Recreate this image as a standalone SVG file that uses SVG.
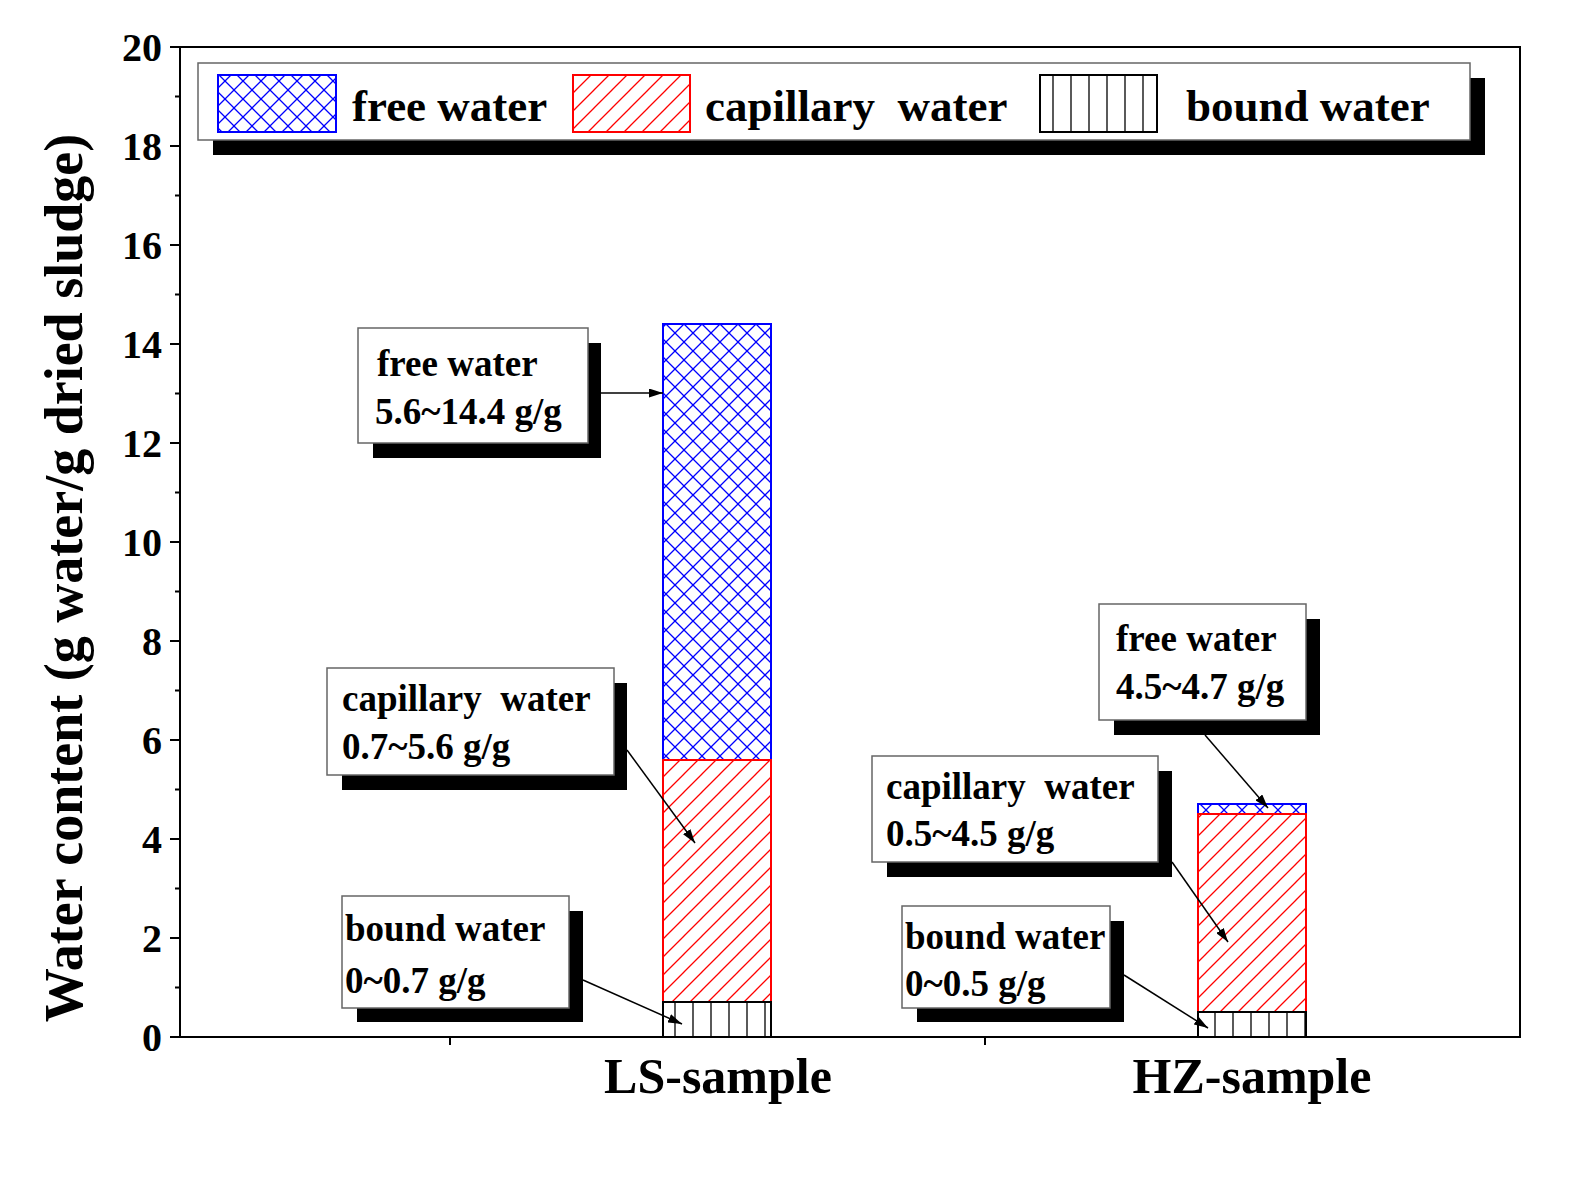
<svg xmlns="http://www.w3.org/2000/svg" width="1579" height="1178" viewBox="0 0 1579 1178">
<style>
text{font-family:"Liberation Serif","Times New Roman",serif;font-weight:bold;fill:#000}
.ann{font-size:37px}
.tick{font-size:40px}
.box{fill:#fff;stroke:#666;stroke-width:1.5}
.sh{fill:#000}
.ar{stroke:#000;stroke-width:1.5;fill:none;marker-end:url(#ah)}
</style>
<defs>
<pattern id="px" width="18" height="18" patternUnits="userSpaceOnUse"><rect width="18" height="18" fill="#fff"/><path d="M0 0L18 18M18 0L0 18" stroke="#0000ff" stroke-width="1.3"/></pattern>
<pattern id="pr" width="18" height="18" patternUnits="userSpaceOnUse"><rect width="18" height="18" fill="#fff"/><path d="M0 18L18 0M-4 4L4 -4M14 22L22 14" stroke="#ff0000" stroke-width="1.3"/></pattern>
<pattern id="pv" width="18" height="18" patternUnits="userSpaceOnUse"><rect width="18" height="18" fill="#fff"/><path d="M9 0V18" stroke="#000" stroke-width="1.3"/></pattern>
<marker id="ah" markerWidth="14" markerHeight="9" refX="14" refY="4.5" orient="auto" markerUnits="userSpaceOnUse"><path d="M0 0L14 4.5L0 9z" fill="#000"/></marker>
</defs>
<rect width="1579" height="1178" fill="#fff"/>
<g id="axes" stroke="#000" stroke-width="2" fill="none">
<rect x="180" y="47" width="1340" height="990"/>
<path d="M180 1037h-10M180 938h-10M180 839h-10M180 740h-10M180 641h-10M180 542h-10M180 443h-10M180 344h-10M180 245h-10M180 146h-10M180 47h-10"/>
<path d="M180 987.5h-5M180 888.5h-5M180 789.5h-5M180 690.5h-5M180 591.5h-5M180 492.5h-5M180 393.5h-5M180 294.5h-5M180 195.5h-5M180 96.5h-5"/>
<path d="M450 1037v8M985 1037v8"/>
</g>
<g id="ticklabels" text-anchor="end">
<text x="162" y="1051" class="tick">0</text><text x="162" y="952" class="tick">2</text><text x="162" y="853" class="tick">4</text><text x="162" y="754" class="tick">6</text><text x="162" y="655" class="tick">8</text><text x="162" y="556" class="tick">10</text><text x="162" y="457" class="tick">12</text><text x="162" y="358" class="tick">14</text><text x="162" y="259" class="tick">16</text><text x="162" y="160" class="tick">18</text><text x="162" y="61" class="tick">20</text>
</g>
<text x="0" y="0" transform="translate(82,578) rotate(-90)" text-anchor="middle" font-size="54">Water content (g water/g dried sludge)</text>
<text x="718" y="1093" text-anchor="middle" font-size="50">LS-sample</text>
<text x="1252" y="1093" text-anchor="middle" font-size="50">HZ-sample</text>
<g id="bars" stroke-width="2">
<rect x="663" y="324" width="108" height="436" fill="url(#px)" stroke="#0000ff"/>
<rect x="663" y="760" width="108" height="242" fill="url(#pr)" stroke="#ff0000"/>
<rect x="663" y="1002" width="108" height="35" fill="url(#pv)" stroke="#000"/>
<rect x="1198" y="804" width="108" height="10" fill="url(#px)" stroke="#0000ff"/>
<rect x="1198" y="814" width="108" height="198" fill="url(#pr)" stroke="#ff0000"/>
<rect x="1198" y="1012" width="108" height="25" fill="url(#pv)" stroke="#000"/>
</g>
<g id="legend">
<rect class="sh" x="213" y="78" width="1272" height="77"/>
<rect class="box" x="198" y="63" width="1272" height="77"/>
<rect x="218" y="75" width="118" height="57" fill="url(#px)" stroke="#0000ff" stroke-width="2"/>
<text x="352" y="121" font-size="45">free water</text>
<rect x="573" y="75" width="117" height="57" fill="url(#pr)" stroke="#ff0000" stroke-width="2"/>
<text x="705" y="121" font-size="45" xml:space="preserve">capillary  water</text>
<rect x="1040" y="75" width="117" height="57" fill="url(#pv)" stroke="#000" stroke-width="2"/>
<text x="1186" y="121" font-size="45">bound water</text>
</g>
<g id="n1"><rect class="sh" x="373" y="343" width="228" height="115"/><rect class="box" x="358" y="328" width="230" height="115"/><text class="ann" x="377" y="376">free water</text><text class="ann" x="375" y="424">5.6~14.4 g/g</text></g>
<g id="n2"><rect class="sh" x="342" y="683" width="285" height="107"/><rect class="box" x="327" y="668" width="287" height="107"/><text class="ann" x="342" y="711" xml:space="preserve">capillary  water</text><text class="ann" x="342" y="759">0.7~5.6 g/g</text></g>
<g id="n3"><rect class="sh" x="357" y="911" width="226" height="111"/><rect class="box" x="342" y="896" width="227" height="112"/><text class="ann" x="345" y="941">bound water</text><text class="ann" x="345" y="993">0~0.7 g/g</text></g>
<g id="n4"><rect class="sh" x="1114" y="619" width="206" height="116"/><rect class="box" x="1099" y="604" width="207" height="116"/><text class="ann" x="1116" y="651">free water</text><text class="ann" x="1116" y="699">4.5~4.7 g/g</text></g>
<g id="n5"><rect class="sh" x="887" y="771" width="285" height="106"/><rect class="box" x="872" y="756" width="286" height="106"/><text class="ann" x="886" y="799" xml:space="preserve">capillary  water</text><text class="ann" x="886" y="846">0.5~4.5 g/g</text></g>
<g id="n6"><rect class="sh" x="917" y="921" width="207" height="101"/><rect class="box" x="902" y="906" width="208" height="102"/><text class="ann" x="905" y="949">bound water</text><text class="ann" x="905" y="996">0~0.5 g/g</text></g>
<g id="connectors">
<path class="ar" d="M601 393H663"/>
<path class="ar" d="M627 750L695 843"/>
<path class="ar" d="M583 980L682 1024"/>
<path class="ar" d="M1205 735L1268 808"/>
<path class="ar" d="M1172 862L1228 942"/>
<path class="ar" d="M1124 975L1208 1028"/>
</g>
</svg>
